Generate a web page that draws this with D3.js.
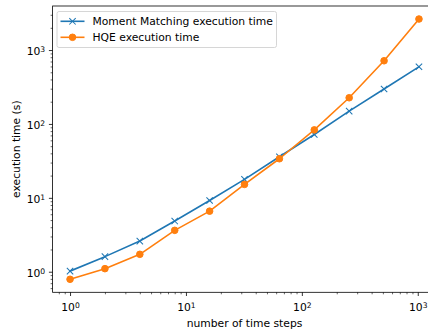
<!DOCTYPE html>
<html>
<head>
<meta charset="utf-8">
<script src="https://cdn.jsdelivr.net/npm/d3@7"></script>
<style>
  html, body { margin: 0; padding: 0; background: #fff; }
  svg { display: block; font-family: "DejaVu Sans", sans-serif; }
</style>
</head>
<body>
<svg id="chart" width="428" height="329"></svg>
<script>
// Number of time steps (x) and measured execution times in seconds (y)
const timeSteps = [1, 2, 4, 8, 16, 32, 64, 128, 256, 512, 1024];
const momentMatching = [1.02, 1.6, 2.6, 4.85, 9.2, 17.8, 36, 72, 149, 297, 594];
const hqe = [0.79, 1.1, 1.72, 3.63, 6.6, 15.2, 33.8, 83, 226, 716, 2630];
const seriesNames = ["Moment Matching execution time", "HQE execution time"];
const seriesColors = ["#1f77b4", "#ff7f0e"];
const xTickValues = [1, 10, 100, 1000];
const yTickValues = [1, 10, 100, 1000];
const xLabel = "number of time steps";
const yLabel = "execution time (s)";

const FONT = "10.75px";
const SUP = "7.6px";

const svg = d3.select("#chart");
const plot = { left: 52.6, right: 436.4, top: 6, bottom: 292.3 };

// log-space domain padded by 5% on each side
function paddedLogDomain(values) {
  const lo = Math.log10(d3.min(values)), hi = Math.log10(d3.max(values));
  const m = (hi - lo) * 0.05;
  return [Math.pow(10, lo - m), Math.pow(10, hi + m)];
}

const x = d3.scaleLog().domain(paddedLogDomain(timeSteps)).range([plot.left, plot.right]);
const y = d3.scaleLog().domain(paddedLogDomain(momentMatching.concat(hqe))).range([plot.bottom, plot.top]);

// minor ticks: 2..9 of each decade inside the domain
function minorTicks(scale) {
  const [a, b] = scale.domain();
  const out = [];
  for (let e = Math.floor(Math.log10(a)); e <= Math.ceil(Math.log10(b)); e++) {
    for (let k = 2; k <= 9; k++) {
      const v = k * Math.pow(10, e);
      if (v >= a && v <= b) out.push(v);
    }
  }
  return out;
}

function powLabel(sel, v) {
  const e = Math.round(Math.log10(v));
  sel.text(null);
  sel.append("tspan").text("10");
  sel.append("tspan").attr("dy", "-0.45em").attr("font-size", SUP).text(e);
}

const clipId = "plotClip";
svg.append("defs").append("clipPath").attr("id", clipId)
  .append("rect").attr("x", plot.left).attr("y", plot.top)
  .attr("width", plot.right - plot.left).attr("height", plot.bottom - plot.top);

// X axis
svg.append("g").attr("transform", `translate(0,${plot.bottom})`)
  .call(d3.axisBottom(x).tickValues(minorTicks(x)).tickSize(2).tickFormat(""))
  .call(g => g.select(".domain").remove())
  .call(g => g.selectAll("line").attr("stroke", "#000").attr("stroke-width", 0.6));
svg.append("g").attr("transform", `translate(0,${plot.bottom})`)
  .call(d3.axisBottom(x).tickValues(xTickValues).tickSize(3.7).tickPadding(3.7))
  .call(g => g.select(".domain").remove())
  .call(g => g.selectAll("line").attr("stroke", "#000").attr("stroke-width", 0.8))
  .call(g => g.selectAll("text").attr("fill", "#000").attr("font-size", FONT)
    .attr("font-family", "DejaVu Sans").attr("dy", "1.05em")
    .each(function(d) { powLabel(d3.select(this), d); }));

// Y axis
svg.append("g").attr("transform", `translate(${plot.left},0)`)
  .call(d3.axisLeft(y).tickValues(minorTicks(y)).tickSize(2).tickFormat(""))
  .call(g => g.select(".domain").remove())
  .call(g => g.selectAll("line").attr("stroke", "#000").attr("stroke-width", 0.6));
svg.append("g").attr("transform", `translate(${plot.left},0)`)
  .call(d3.axisLeft(y).tickValues(yTickValues).tickSize(3.7).tickPadding(3.7))
  .call(g => g.select(".domain").remove())
  .call(g => g.selectAll("line").attr("stroke", "#000").attr("stroke-width", 0.8))
  .call(g => g.selectAll("text").attr("fill", "#000").attr("font-size", FONT)
    .attr("font-family", "DejaVu Sans").attr("dy", "0.45em")
    .each(function(d) { powLabel(d3.select(this), d); }));

// frame
svg.append("rect").attr("x", plot.left).attr("y", plot.top)
  .attr("width", plot.right - plot.left).attr("height", plot.bottom - plot.top)
  .attr("fill", "none").attr("stroke", "#000").attr("stroke-width", 0.8);

// axis labels
svg.append("text").attr("x", (plot.left + plot.right) / 2).attr("y", 326.5)
  .attr("text-anchor", "middle").attr("font-size", FONT).attr("fill", "#000").text(xLabel);
svg.append("text").attr("transform", `translate(20,${(plot.top + plot.bottom) / 2}) rotate(-90)`)
  .attr("text-anchor", "middle").attr("font-size", FONT).attr("fill", "#000").text(yLabel);

// series
const series = [momentMatching, hqe];
const line = d3.line().x((d, i) => x(timeSteps[i])).y(d => y(d));
const plotG = svg.append("g").attr("clip-path", `url(#${clipId})`);

function drawMarker(g, kind, color) {
  if (kind === "x") {
    g.append("path").attr("d", "M-3.2,-3.2L3.2,3.2M-3.2,3.2L3.2,-3.2")
      .attr("stroke", color).attr("stroke-width", 1.05).attr("fill", "none");
  } else {
    g.append("circle").attr("r", 3.3).attr("fill", color).attr("stroke", color).attr("stroke-width", 1);
  }
}

const markerKinds = ["x", "o"];
series.forEach((vals, s) => {
  plotG.append("path").datum(vals).attr("d", line)
    .attr("fill", "none").attr("stroke", seriesColors[s]).attr("stroke-width", 1.6)
    .attr("stroke-linejoin", "round").attr("stroke-linecap", "square");
  vals.forEach((v, i) => {
    const g = plotG.append("g").attr("transform", `translate(${x(timeSteps[i])},${y(v)})`);
    drawMarker(g, markerKinds[s], seriesColors[s]);
  });
});

// legend
const legend = svg.append("g");
legend.append("rect").attr("x", 57).attr("y", 11.5).attr("width", 219.5).attr("height", 36)
  .attr("rx", 2).attr("fill", "#fff").attr("fill-opacity", 0.8)
  .attr("stroke", "#ccc").attr("stroke-width", 0.8);
seriesNames.forEach((name, s) => {
  const cy = 21.3 + s * 16;
  legend.append("line").attr("x1", 60.5).attr("x2", 84.5).attr("y1", cy).attr("y2", cy)
    .attr("stroke", seriesColors[s]).attr("stroke-width", 1.6);
  const mg = legend.append("g").attr("transform", `translate(72.5,${cy})`);
  drawMarker(mg, markerKinds[s], seriesColors[s]);
  legend.append("text").attr("x", 92.5).attr("y", cy).attr("dy", "0.36em")
    .attr("font-size", FONT).attr("fill", "#000").text(name);
});
</script>
</body>
</html>
